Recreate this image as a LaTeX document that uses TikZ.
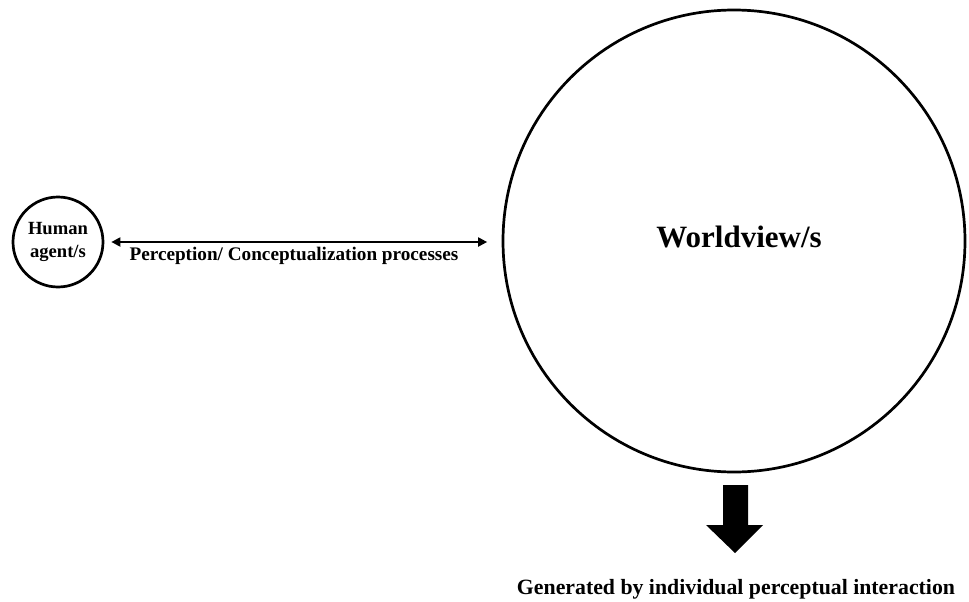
\documentclass[tikz,border=0pt]{standalone}
\usepackage{fontspec}
\setmainfont{Liberation Serif}
\usetikzlibrary{arrows.meta}
\begin{document}
\begin{tikzpicture}[x=1pt,y=1pt,
  circ/.style={draw, circle, line width=2.7pt, inner sep=0pt},
  lbl/.style={font=\bfseries, inner sep=0pt, align=center},
  link/.style={line width=2pt, {Triangle[length=9pt,width=9pt]}-{Triangle[length=9pt,width=9pt]}}
]
\useasboundingbox (0,0) rectangle (969,-602);
\node[circ, minimum size=90pt] (human) at (58,-242) {};
\node[lbl, font=\bfseries\fontsize{18.6}{23}\selectfont] (humantext) at (58,-242) {Human\\agent/s};
\node[circ, minimum size=462pt] (world) at (734,-241) {};
\node[lbl, font=\bfseries\fontsize{31}{36}\selectfont] (worldtext) at (739,-237) {Worldview/s};
\draw[link, shorten <=7pt, shorten >=14.5pt] (human.east) -- (human.east -| world.west);
\node[lbl, font=\bfseries\fontsize{19.2}{22}\selectfont] (proc) at (294,-256) {Perception/ Conceptualization processes};
\fill (723,-485) -- (748,-485) -- (748,-525) -- (763,-525) -- (735,-553) -- (706,-525) -- (723,-525) -- cycle;
\node[lbl, font=\bfseries\fontsize{21.8}{26}\selectfont] (gen) at (736,-589) {Generated by individual perceptual interaction};
\end{tikzpicture}
\end{document}
